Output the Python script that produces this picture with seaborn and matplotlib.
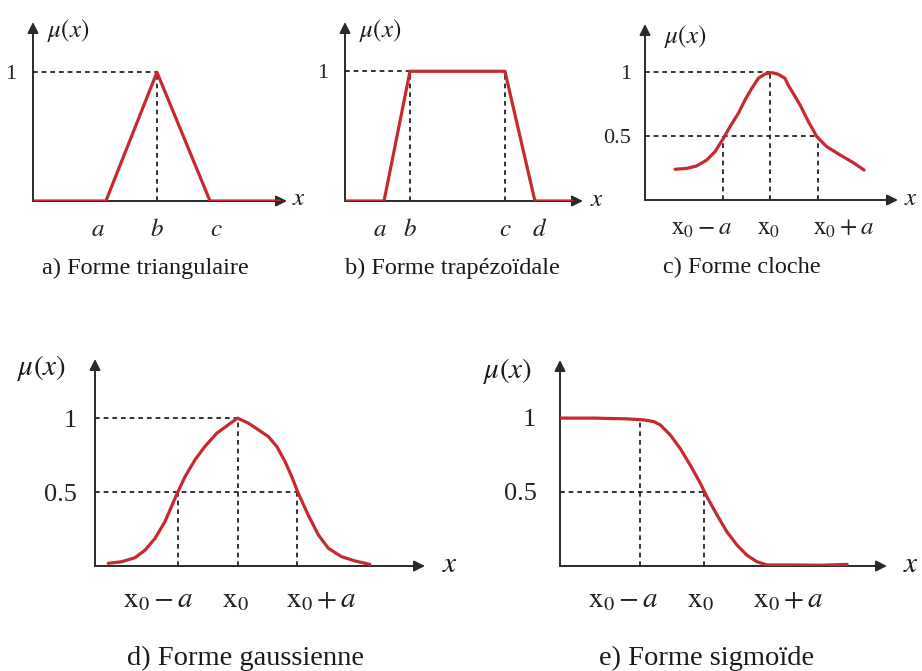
import matplotlib
matplotlib.use("Agg")
import matplotlib.pyplot as plt
import seaborn as sns

sns.set_theme(style="white")
plt.rcParams['font.family'] = ['Liberation Serif', 'DejaVu Serif']
plt.rcParams['mathtext.fontset'] = 'stix'

RED = '#c62a2f'
AXC = '#2a2a2a'
DASH = '#222222'
W, H = 922, 671

# ---------------- data (abstract units, x axis 0..10) ----------------
# a) triangular
tri_x = [0, 2.87, 4.88, 6.97, 9.7]
tri_y = [0, 0, 1, 0, 0]
tri_ticks = [2.56, 4.88, 7.2]
tri_labels = ['$a$', '$b$', '$c$']

# b) trapezoidal
trap_x = [0, 1.64, 2.73, 6.72, 7.98, 9.54]
trap_y = [0, 0, 1, 1, 0, 0]
trap_ticks = [1.47, 2.73, 6.72, 8.19]
trap_labels = ['$a$', '$b$', '$c$', '$d$']

# c) bell
bell_x = [1.19, 1.65, 2.04, 2.44, 2.77, 3.10, 3.36, 3.69, 3.95, 4.22, 4.48,
          4.74, 5.01, 5.27, 5.53, 5.66, 5.86, 6.13, 6.46, 6.79, 7.18, 7.71,
          8.23, 8.66]
bell_y = [0.240, 0.247, 0.266, 0.312, 0.378, 0.482, 0.573, 0.677, 0.781,
          0.872, 0.951, 0.984, 0.995, 0.982, 0.951, 0.898, 0.833, 0.742,
          0.612, 0.495, 0.417, 0.352, 0.292, 0.234]
bell_guides = [3.07, 4.94, 6.85]
bell_ticks = [2.24, 4.87, 7.84]

# d) gaussian
gauss_x = [0.40, 0.81, 1.21, 1.52, 1.82, 2.12, 2.47, 2.73, 3.03, 3.33, 3.69,
           4.04, 4.32, 4.65, 4.95, 5.25, 5.51, 5.76, 5.96, 6.16, 6.46, 6.77,
           7.07, 7.47, 7.88, 8.33]
gauss_y = [0.018, 0.029, 0.056, 0.108, 0.187, 0.300, 0.481, 0.605, 0.718,
           0.808, 0.898, 0.955, 1.0, 0.966, 0.921, 0.876, 0.808, 0.706,
           0.605, 0.492, 0.345, 0.210, 0.120, 0.063, 0.034, 0.011]
gauss_guides = [2.53, 4.32, 6.11]
gauss_ticks = [1.92, 4.24, 6.87]

# e) sigmoid
sig_x = [0, 1.02, 2.04, 2.55, 2.86, 3.06, 3.37, 3.67, 3.98, 4.29, 4.49, 4.80,
         5.10, 5.41, 5.71, 6.02, 6.33, 7.14, 7.96, 8.78]
sig_y = [0.998, 0.998, 0.993, 0.986, 0.975, 0.953, 0.885, 0.795, 0.682,
         0.559, 0.468, 0.345, 0.232, 0.142, 0.074, 0.029, 0.007, 0.007,
         0.005, 0.011]
sig_guides = [2.45, 4.41]
sig_ticks = [1.94, 4.29, 6.99]

x0_labels = [r'$\mathrm{x}_0 - a$', r'$\mathrm{x}_0$', r'$\mathrm{x}_0 + a$']

fig = plt.figure(figsize=(W / 100, H / 100), dpi=100)
fig.patch.set_facecolor('white')


def make_ax(px0, pxend, pybase, pytop, ymax):
    ax = fig.add_axes([px0 / W, 1 - pybase / H, (pxend - px0) / W,
                       (pybase - pytop) / H])
    ax.set_xlim(0, 10)
    ax.set_ylim(0, ymax)
    ax.set_facecolor('none')
    for s in ax.spines.values():
        s.set_visible(False)
    arrow = dict(arrowstyle='-|>', color=AXC, lw=1.4, mutation_scale=16,
                 shrinkA=0, shrinkB=0)
    ax.annotate('', xy=(1, 0), xytext=(0, 0), xycoords='axes fraction',
                textcoords='axes fraction', arrowprops=arrow,
                annotation_clip=False, zorder=1)
    ax.annotate('', xy=(0, 1), xytext=(0, 0), xycoords='axes fraction',
                textcoords='axes fraction', arrowprops=arrow,
                annotation_clip=False, zorder=1)
    ax.grid(False)
    return ax


def dashed(ax, xs, ys):
    ax.plot(xs, ys, ls=(0, (2.6, 2.2)), color=DASH, lw=1.3, zorder=2)


def curve(ax, xs, ys):
    sns.lineplot(x=xs, y=ys, ax=ax, color=RED, lw=2.3, sort=False,
                 estimator=None, zorder=3, solid_joinstyle='round',
                 solid_capstyle='round')


def style_ticks(ax, xticks, xlabels, yticks, ylabels, fs, nfs, xpad, ypad):
    ax.set_xticks(xticks)
    ax.set_xticklabels(xlabels, fontsize=fs)
    ax.set_yticks(yticks)
    ax.set_yticklabels(ylabels, fontsize=nfs)
    ax.tick_params(axis='x', length=0, pad=xpad, colors='#222')
    ax.tick_params(axis='y', length=0, pad=ypad, colors='#222')


# ---------------- a) triangular ----------------
axa = make_ax(33, 287, 201, 22, 1.39)
dashed(axa, [0, tri_x[2]], [1, 1])
dashed(axa, [tri_x[2], tri_x[2]], [0, 1])
curve(axa, tri_x, tri_y)
style_ticks(axa, tri_ticks, tri_labels, [1], ['1'], 18, 16, 13, 12)

# ---------------- b) trapezoidal ----------------
axb = make_ax(345, 583, 201, 22, 1.38)
dashed(axb, [0, trap_x[2]], [1, 1])
dashed(axb, [trap_x[2], trap_x[2]], [0, 1])
dashed(axb, [trap_x[3], trap_x[3]], [0, 1])
curve(axb, trap_x, trap_y)
style_ticks(axb, trap_ticks, trap_labels, [1], ['1'], 18, 16, 13, 12)

# ---------------- c) bell ----------------
axc = make_ax(645, 898, 200, 24, 1.375)
dashed(axc, [0, bell_guides[1]], [1, 1])
dashed(axc, [0, bell_guides[2]], [0.5, 0.5])
dashed(axc, [bell_guides[0], bell_guides[0]], [0, 0.5])
dashed(axc, [bell_guides[1], bell_guides[1]], [0, 1])
dashed(axc, [bell_guides[2], bell_guides[2]], [0, 0.5])
curve(axc, bell_x, bell_y)
style_ticks(axc, bell_ticks, x0_labels, [0.5, 1], ['0.5', '1'], 18, 16, 13, 10)

# ---------------- d) gaussian ----------------
axd = make_ax(95, 425, 566, 359, 1.40)
dashed(axd, [0, gauss_guides[1]], [1, 1])
dashed(axd, [0, gauss_guides[2]], [0.5, 0.5])
dashed(axd, [gauss_guides[0], gauss_guides[0]], [0, 0.5])
dashed(axd, [gauss_guides[1], gauss_guides[1]], [0, 1])
dashed(axd, [gauss_guides[2], gauss_guides[2]], [0, 0.5])
curve(axd, gauss_x, gauss_y)
style_ticks(axd, gauss_ticks, x0_labels, [0.5, 1], ['0.5', '1'], 21, 19, 15, 13)

# ---------------- e) sigmoid ----------------
axe = make_ax(560, 887, 566, 360, 1.39)
dashed(axe, [0, sig_guides[1]], [0.5, 0.5])
dashed(axe, [sig_guides[0], sig_guides[0]], [0, 1])
dashed(axe, [sig_guides[1], sig_guides[1]], [0, 0.5])
curve(axe, sig_x, sig_y)
style_ticks(axe, sig_ticks, x0_labels, [0.5, 1], ['0.5', '1'], 21, 19, 15, 17)


# ---------------- texts ----------------
def ftext(px, py, s, fs, ha='left', va='center'):
    fig.text(px / W, 1 - py / H, s, fontsize=fs, ha=ha, va=va, color='#1a1a1a')


mu = r'$\mu(x)$'
ftext(47, 31, mu, 18)
ftext(359, 31, mu, 18)
ftext(664, 37, mu, 18)
ftext(17, 368, mu, 21)
ftext(483, 371, mu, 21)

ftext(292, 199, '$x$', 18)
ftext(590, 200, '$x$', 18)
ftext(904, 199, '$x$', 18)
ftext(442, 565, '$x$', 21)
ftext(903, 565, '$x$', 21)

ftext(145, 268, 'a) Forme triangulaire', 17.5, ha='center')
ftext(452, 268, 'b) Forme trapézoïdale', 17.5, ha='center')
ftext(742, 267, 'c) Forme cloche', 17.5, ha='center')
ftext(245, 658, 'd) Forme gaussienne', 20.5, ha='center')
ftext(707, 658, 'e) Forme sigmoïde', 20.5, ha='center')

fig.savefig('out.png', dpi=100, facecolor='white')
